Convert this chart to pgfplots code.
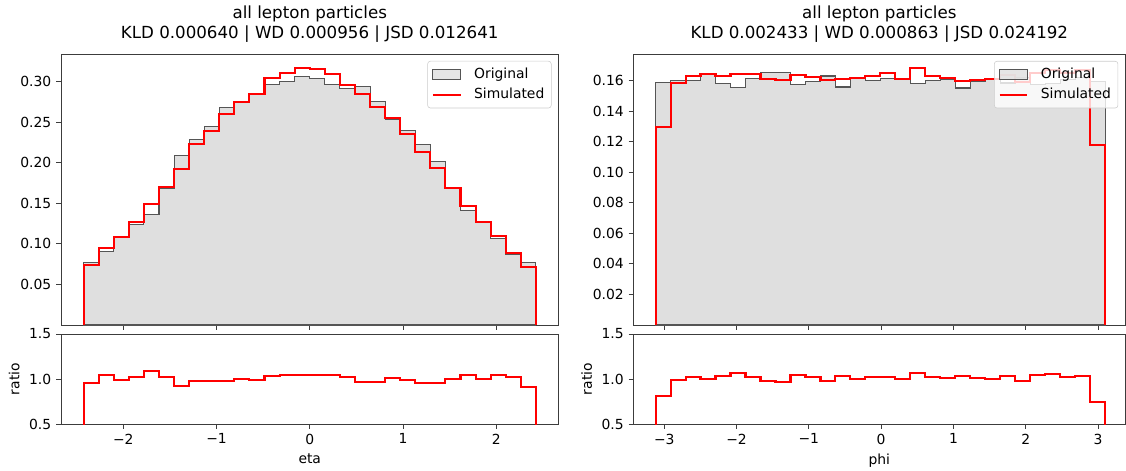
\documentclass[border=0pt]{standalone}
\usepackage{fontspec}
\setmainfont{DejaVu Sans}
\usepackage{pgfplots}
\usepackage{pgfplotstable}
\pgfplotsset{compat=1.18}

\definecolor{histgray}{RGB}{223,223,223}
\definecolor{edgegray}{RGB}{85,85,85}
\definecolor{spine}{RGB}{60,60,60}

% columns: left bin edge, original, simulated, ratio
\pgfplotstableread{
x orig sim ratio
-2.4250 0 0 0
-2.4250 0.0771 0.0738 0.959
-2.2633 0.0902 0.0944 1.041
-2.1017 0.1090 0.1085 0.993
-1.9400 0.1240 0.1265 1.026
-1.7783 0.1364 0.1490 1.093
-1.6167 0.1684 0.1700 1.019
-1.4550 0.2095 0.1923 0.922
-1.2933 0.2293 0.2227 0.974
-1.1317 0.2453 0.2388 0.978
-0.9700 0.2679 0.2597 0.978
-0.8083 0.2755 0.2750 0.996
-0.6467 0.2857 0.2844 0.993
-0.4850 0.2968 0.3049 1.037
-0.3233 0.3008 0.3111 1.041
-0.1617 0.3061 0.3172 1.044
0.0000 0.3042 0.3157 1.044
0.1617 0.2971 0.3095 1.044
0.3233 0.2918 0.2959 1.019
0.4850 0.2938 0.2844 0.970
0.6467 0.2753 0.2684 0.970
0.8083 0.2536 0.2556 1.007
0.9700 0.2395 0.2354 0.985
1.1317 0.2231 0.2136 0.956
1.2933 0.2021 0.1931 0.956
1.4550 0.1688 0.1684 0.996
1.6167 0.1417 0.1470 1.044
1.7783 0.1270 0.1274 1.004
1.9400 0.1067 0.1096 1.044
2.1017 0.0870 0.0885 1.019
2.2633 0.0766 0.0710 0.915
2.4250 0.0766 0.0710 0.915
2.4250 0 0 0
}\etadata

\pgfplotstableread{
x orig sim ratio
-3.1200 0 0 0
-3.1200 0.1591 0.1299 0.815
-2.9127 0.1600 0.1587 0.989
-2.7053 0.1603 0.1629 1.022
-2.4980 0.1646 0.1644 0.996
-2.2907 0.1580 0.1631 1.037
-2.0833 0.1554 0.1645 1.063
-1.8760 0.1613 0.1646 1.022
-1.6687 0.1652 0.1609 0.974
-1.4613 0.1652 0.1603 0.967
-1.2540 0.1576 0.1640 1.044
-1.0467 0.1596 0.1625 1.019
-0.8393 0.1631 0.1605 0.981
-0.6320 0.1559 0.1609 1.033
-0.4247 0.1620 0.1615 0.996
-0.2173 0.1600 0.1630 1.019
-0.0100 0.1613 0.1650 1.026
0.1973 0.1609 0.1609 1.000
0.4047 0.1580 0.1685 1.070
0.6120 0.1603 0.1633 1.019
0.8193 0.1609 0.1620 1.007
1.0267 0.1552 0.1598 1.030
1.2340 0.1598 0.1603 1.007
1.4413 0.1609 0.1609 1.000
1.6487 0.1585 0.1637 1.033
1.8560 0.1620 0.1589 0.981
2.0633 0.1575 0.1651 1.048
2.2707 0.1580 0.1673 1.059
2.4780 0.1610 0.1652 1.026
2.6853 0.1620 0.1673 1.033
2.8927 0.1594 0.1181 0.741
3.1000 0.1594 0.1181 0.741
3.1000 0 0 0
}\phidata

\pgfplotsset{
  base/.style={
    scale only axis,
    axis line style={spine, line width=0.7pt},
    every tick/.style={spine, line width=0.7pt},
    tick align=outside,
    major tick length=3.5pt,
    xtick pos=lower, ytick pos=left,
    tick label style={font=\fontsize{10}{12}\selectfont, black},
    label style={font=\fontsize{10}{12}\selectfont},
    /pgf/number format/assume math mode=true,
    title style={font=\fontsize{12}{14.4}\selectfont, align=center, yshift=-1.5pt},
  },
  mainax/.style={
    base,
    height=195.12pt,
    ymin=0,
    xticklabels={},
    yticklabel style={/pgf/number format/.cd, fixed, fixed zerofill, precision=2},
    legend cell align=left,
    legend style={at={(1,1)}, anchor=north east, xshift=-5pt, yshift=-5pt,
      draw=black!20, rounded corners=2pt, fill=white, fill opacity=0.8, text opacity=1,
      font=\fontsize{10}{12}\selectfont, row sep=1.5pt, inner sep=3pt},
  },
  ratioax/.style={
    base,
    height=64.8pt,
    ymin=0.5, ymax=1.5,
    ytick={0.5,1.0,1.5},
    yticklabel style={/pgf/number format/.cd, fixed, fixed zerofill, precision=1},
    ylabel={ratio},
  },
  histfill/.style={fill=histgray, draw=edgegray, line width=0.8pt, const plot,
    legend image code/.code={\draw[sharp corners, fill=histgray, draw=edgegray, line width=0.8pt] (0pt,-3.5pt) rectangle (20pt,3.5pt); \path (27pt,0pt);}},
  histline/.style={red, line width=1.5pt, const plot,
    legend image code/.code={\draw[sharp corners, red, line width=1.5pt] (0pt,0pt) -- (20pt,0pt); \path (27pt,0pt);}},
}

\begin{document}
\begin{tikzpicture}
\path[use as bounding box] (0,0) rectangle (810.72pt,338.4pt);

% ---------- left: eta ----------
\begin{axis}[mainax,
  at={(43.92pt,104.4pt)}, anchor=south west,
  width=358.2pt,
  xmin=-2.6675, xmax=2.6675, ymax=0.3342,
  xtick={-2,-1,0,1,2},
  ytick={0.05,0.10,0.15,0.20,0.25,0.30},
  title={all lepton particles\\KLD 0.000640 | WD 0.000956 | JSD 0.012641},
]
\addplot[histfill] table[x=x, y=orig] {\etadata} \closedcycle;
\addplot[histline] table[x=x, y=sim] {\etadata};
\legend{Original, Simulated}
\end{axis}

\begin{axis}[ratioax,
  at={(43.92pt,33.12pt)}, anchor=south west,
  width=358.2pt,
  xmin=-2.6675, xmax=2.6675,
  xtick={-2,-1,0,1,2},
  xticklabels={−2,−1,0,1,2},
  xlabel={eta},
]
\addplot[red, line width=1.5pt, const plot] table[x=x, y=ratio] {\etadata};
\end{axis}

% ---------- right: phi ----------
\begin{axis}[mainax,
  at={(456.12pt,104.4pt)}, anchor=south west,
  width=354.0pt,
  xmin=-3.425, xmax=3.375, ymax=0.1775,
  xtick={-3,-2,-1,0,1,2,3},
  ytick={0.02,0.04,0.06,0.08,0.10,0.12,0.14,0.16},
  title={all lepton particles\\KLD 0.002433 | WD 0.000863 | JSD 0.024192},
]
\addplot[histfill] table[x=x, y=orig] {\phidata} \closedcycle;
\addplot[histline] table[x=x, y=sim] {\phidata};
\legend{Original, Simulated}
\end{axis}

\begin{axis}[ratioax,
  at={(456.12pt,33.12pt)}, anchor=south west,
  width=354.0pt,
  xmin=-3.425, xmax=3.375,
  xtick={-3,-2,-1,0,1,2,3},
  xticklabels={−3,−2,−1,0,1,2,3},
  xlabel={phi},
]
\addplot[red, line width=1.5pt, const plot] table[x=x, y=ratio] {\phidata};
\end{axis}
\end{tikzpicture}
\end{document}
